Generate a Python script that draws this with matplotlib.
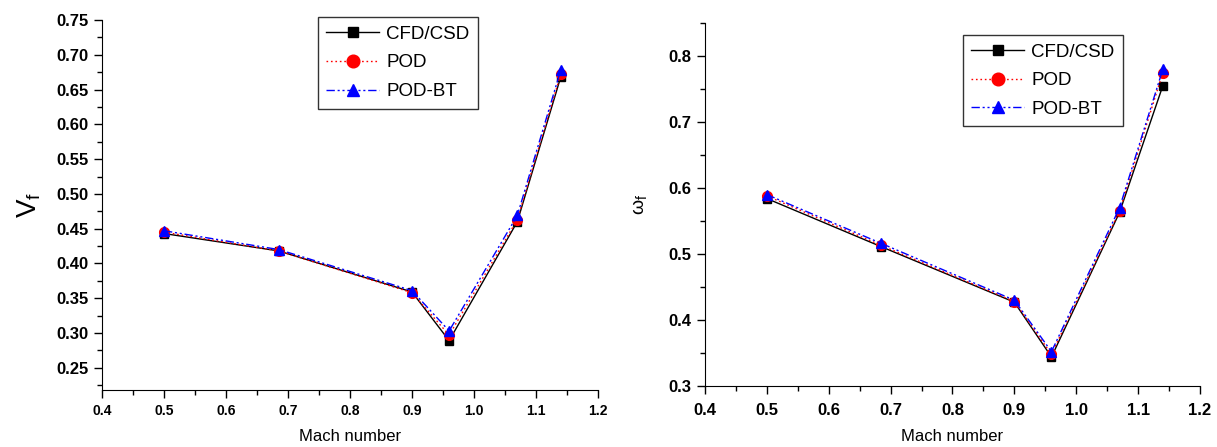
import matplotlib
matplotlib.use("Agg")
from matplotlib import pyplot as plt
from matplotlib.ticker import MultipleLocator, FormatStrFormatter

plt.rcParams['font.family'] = ['Liberation Sans', 'DejaVu Sans']

mach = [0.5, 0.685, 0.9, 0.96, 1.07, 1.14]

# flutter speed index
vf_cfd = [0.443, 0.418, 0.359, 0.289, 0.460, 0.668]
vf_pod = [0.445, 0.418, 0.358, 0.297, 0.463, 0.672]
vf_podbt = [0.447, 0.420, 0.361, 0.303, 0.469, 0.678]

# flutter frequency ratio
wf_cfd = [0.584, 0.511, 0.427, 0.344, 0.563, 0.755]
wf_pod = [0.588, 0.513, 0.428, 0.348, 0.565, 0.775]
wf_podbt = [0.590, 0.516, 0.430, 0.352, 0.570, 0.780]

labels = ['CFD/CSD', 'POD', 'POD-BT']


def draw(ax, cfd, pod, podbt, leg_x, leg_y):
    ax.plot(mach, cfd, color='black', ls='-', lw=1, marker='s', ms=6, label=labels[0])
    ax.plot(mach, pod, color='red', ls=(0, (1.2, 2)), lw=1, marker='o', ms=7, label=labels[1])
    ax.plot(mach, podbt, color='blue', ls=(0, (6, 2, 1.5, 2, 1.5, 2)), lw=1, marker='^', ms=7, label=labels[2])
    for s in ['top', 'right']:
        ax.spines[s].set_visible(False)
    ax.set_xlim(0.4, 1.2)
    ax.xaxis.set_major_locator(MultipleLocator(0.1))
    ax.xaxis.set_minor_locator(MultipleLocator(0.05))
    ax.xaxis.set_major_formatter(FormatStrFormatter('%.1f'))
    ax.tick_params(which='both', direction='out', width=1)
    ax.tick_params(which='major', length=6)
    ax.tick_params(which='minor', length=3.5)
    ax.set_xlabel('Mach number', fontsize=12)
    leg = ax.legend(loc='upper center', bbox_to_anchor=(leg_x, leg_y), fontsize=13.5,
                    frameon=True, fancybox=False, edgecolor='black', handlelength=2.8,
                    handletextpad=0.4, borderpad=0.45, labelspacing=0.62,
                    markerscale=1.3, borderaxespad=0)
    leg.get_frame().set_linewidth(1)


fig = plt.figure(figsize=(12.17, 4.47), dpi=100)
ax1 = fig.add_axes([0.0838, 0.1275, 0.4075, 0.8277])
ax2 = fig.add_axes([0.5793, 0.1365, 0.4067, 0.812])

draw(ax1, vf_cfd, vf_pod, vf_podbt, 0.597, 1.008)
ax1.set_ylim(0.218, 0.75)
ax1.yaxis.set_major_locator(MultipleLocator(0.05))
ax1.yaxis.set_minor_locator(MultipleLocator(0.025))
ax1.yaxis.set_major_formatter(FormatStrFormatter('%.2f'))
ax1.tick_params(axis='y', labelsize=12)
ax1.tick_params(axis='x', labelsize=10, pad=4)
ax1.set_ylabel(r'$\mathregular{V_f}$', fontsize=20, labelpad=10)
ax1.xaxis.set_label_coords(0.5, -0.127)
ax1.xaxis.label.set_va('center')

draw(ax2, wf_cfd, wf_pod, wf_podbt, 0.683, 0.967)
ax2.set_ylim(0.3, 0.85)
ax2.yaxis.set_major_locator(MultipleLocator(0.1))
ax2.yaxis.set_minor_locator(MultipleLocator(0.05))
ax2.yaxis.set_major_formatter(FormatStrFormatter('%.1f'))
ax2.tick_params(labelsize=12)
ax2.tick_params(axis='x', pad=6)
ax2.set_ylabel(r'$\mathregular{\omega_f}$', fontsize=14, labelpad=14)
ax2.xaxis.set_label_coords(0.5, -0.1405)
ax2.xaxis.label.set_va('center')

for t in ax1.get_xticklabels() + ax1.get_yticklabels() + ax2.get_xticklabels() + ax2.get_yticklabels():
    t.set_fontweight('bold')

fig.savefig('out.png', dpi=100)
